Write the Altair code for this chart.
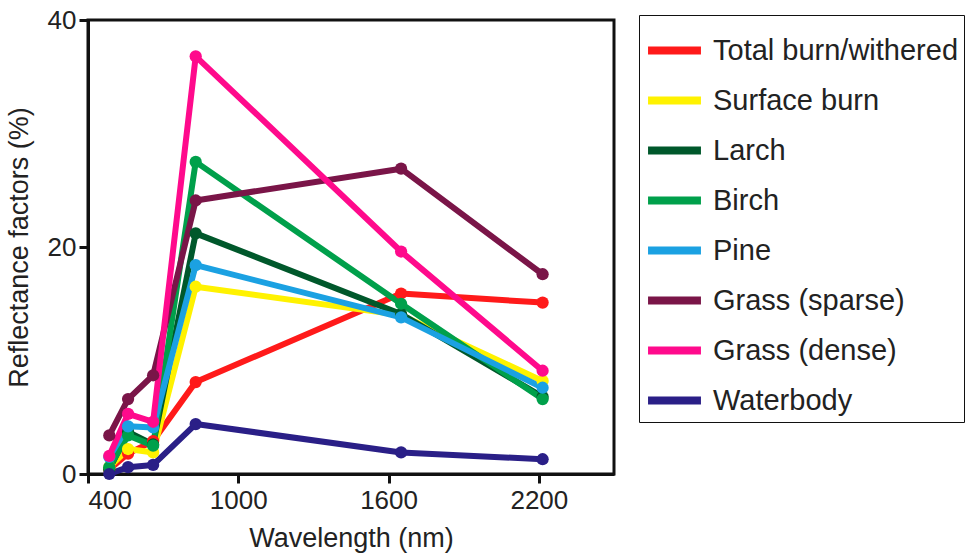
import altair as alt
import pandas as pd

wavelengths = [485, 560, 660, 830, 1650, 2215]
series_names = ["Total burn/withered", "Surface burn", "Larch", "Birch", "Pine",
                "Grass (sparse)", "Grass (dense)", "Waterbody"]
total_burn = [0.4, 1.8, 2.9, 8.1, 15.9, 15.1]
surface_burn = [0.6, 2.2, 1.9, 16.5, 14.0, 8.2]
larch = [0.4, 3.7, 2.6, 21.2, 14.1, 6.8]
birch = [0.6, 3.4, 2.5, 27.5, 15.0, 6.6]
pine = [1.5, 4.2, 4.1, 18.4, 13.8, 7.6]
grass_sparse = [3.4, 6.6, 8.7, 24.1, 26.9, 17.6]
grass_dense = [1.6, 5.3, 4.6, 36.8, 19.6, 9.1]
waterbody = [0.0, 0.6, 0.8, 4.4, 1.9, 1.3]
colors = ["#FF1A1A", "#FFF200", "#00582B", "#00A04B", "#1BA1E2",
          "#7A1548", "#FF0A8C", "#2A1F87"]

all_values = [total_burn, surface_burn, larch, birch, pine,
              grass_sparse, grass_dense, waterbody]
rows = []
for name, vals in zip(series_names, all_values):
    for w, v in zip(wavelengths, vals):
        rows.append({"series": name, "wavelength": w, "value": v})
df = pd.DataFrame(rows)

scale = alt.Scale(domain=series_names, range=colors)
color = alt.Color(
    "series:N", scale=scale, sort=series_names,
    legend=alt.Legend(
        title=None, orient="none", legendX=551, legendY=-5,
        symbolType="stroke", symbolStrokeWidth=8, symbolSize=2800,
        labelFontSize=29, labelFont="Liberation Sans", labelColor="#222222",
        rowPadding=3, strokeColor="#111111", padding=5,
        labelOffset=8, labelLimit=500,
    ),
)

x = alt.X("wavelength:Q", scale=alt.Scale(domain=[400, 2500], nice=False),
          axis=alt.Axis(values=[400, 1000, 1600, 2200], format="d", title="Wavelength (nm)"))
y = alt.Y("value:Q", scale=alt.Scale(domain=[0, 40], nice=False),
          axis=alt.Axis(values=[0, 20, 40], format="d", title="Reflectance factors (%)"))

base = alt.Chart(df)
lines = base.mark_line(strokeWidth=6, strokeJoin="round").encode(
    x=x, y=y, color=color, order="wavelength:Q", detail="series:N")
points = base.mark_circle(size=150, opacity=1).encode(
    x="wavelength:Q", y="value:Q",
    color=alt.Color("series:N", scale=scale, legend=None))

chart = alt.layer(lines, points).properties(
    width=526, height=454,
    autosize=alt.AutoSizeParams(type="none"),
    padding={"left": 88, "top": 20, "right": 362, "bottom": 86},
).configure_view(
    stroke="#111111", strokeWidth=3
).configure_axis(
    domainColor="#111111", domainWidth=3, tickColor="#111111", tickWidth=3,
    tickSize=9, grid=False, labelFont="Liberation Sans", titleFont="Liberation Sans",
    labelFontSize=26, titleFontSize=27, labelColor="#222222", titleColor="#222222",
    titleFontWeight="normal", labelPadding=4,
).configure_axisY(
    titlePadding=14, labelPadding=3
).configure_axisX(
    titlePadding=12
)

chart.save("out.html", embed_options={"renderer": "svg", "actions": False})
